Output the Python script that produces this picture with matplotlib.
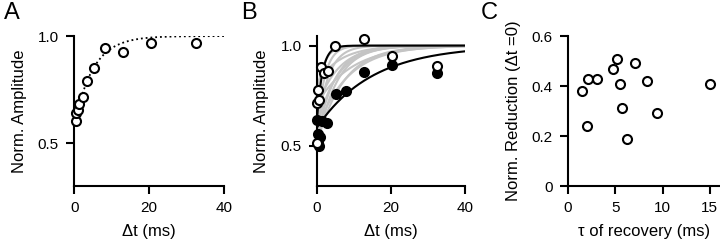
import numpy as np
import matplotlib.pyplot as plt

plt.rcParams['font.family'] = ['Liberation Sans', 'DejaVu Sans']

# panel A: averaged recovery
a_dt = [0.5, 0.6, 0.9, 1.2, 2.3, 3.4, 5.4, 8.3, 13.0, 20.5, 32.5]
a_amp = [0.603, 0.643, 0.657, 0.681, 0.716, 0.79, 0.849, 0.945, 0.927, 0.969, 0.969]
a_fit_r = 0.42
a_fit_tau = 5.0

# panel B: two example cells
b_open_dt = [0.05, 0.1, 0.2, 0.6, 1.0, 2.0, 3.1, 5.0, 12.8, 20.4, 32.5]
b_open_amp = [0.515, 0.716, 0.781, 0.727, 0.891, 0.864, 0.875, 1.0, 1.032, 0.946, 0.90]
b_fill_dt = [0.05, 0.3, 0.45, 0.7, 0.9, 1.35, 2.7, 5.1, 7.9, 12.8, 20.4, 32.5]
b_fill_amp = [0.629, 0.514, 0.56, 0.50, 0.543, 0.622, 0.612, 0.76, 0.776, 0.868, 0.901, 0.863]

# panel C: per-cell fit parameters
c_tau = [1.48, 2.01, 2.12, 3.07, 4.76, 5.22, 5.54, 5.75, 6.25, 7.13, 8.36, 9.39, 15.0]
c_red = [0.38, 0.24, 0.429, 0.429, 0.469, 0.508, 0.409, 0.311, 0.189, 0.491, 0.42, 0.291, 0.409]
fast_idx = 0
slow_idx = 12

fig = plt.figure(figsize=(7.2, 2.42), dpi=100)
axA = fig.add_axes([0.103, 0.231, 0.208, 0.620])
axB = fig.add_axes([0.440, 0.231, 0.206, 0.622])
axC = fig.add_axes([0.789, 0.231, 0.210, 0.620])

mk = dict(marker='o', ms=6.5, mew=1.5, mec='black', ls='none', zorder=4, clip_on=False)

def style(ax):
    for s in ['top', 'right']:
        ax.spines[s].set_visible(False)
    for s in ['left', 'bottom']:
        ax.spines[s].set_linewidth(1.5)
    ax.tick_params(width=1.5, length=6, pad=5, labelsize=11, direction='out')
    ax.xaxis.labelpad = 6
    ax.yaxis.labelpad = 8

t = np.linspace(0, 40, 400)

# A
axA.plot(t, 1 - a_fit_r * np.exp(-t / a_fit_tau), ls=':', color='black', lw=1.3, zorder=2)
axA.plot(a_dt, a_amp, mfc='white', **mk)
axA.set_xlim(0, 40)
axA.set_ylim(0.3, 1.0)
axA.set_xticks([0, 20, 40])
axA.set_yticks([0.5, 1.0])
axA.set_yticklabels(['0.5', '1.0'])
axA.set_xlabel('Δt (ms)', fontsize=12)
axA.set_ylabel('Norm. Amplitude', fontsize=12)
style(axA)

# B
for i, (tau, r) in enumerate(zip(c_tau, c_red)):
    if i in (fast_idx, slow_idx):
        continue
    axB.plot(t, 1 - r * np.exp(-t / tau), color='#c4c4c4', lw=1.5, zorder=1)
axB.plot(t, 1 - c_red[fast_idx] * np.exp(-t / c_tau[fast_idx]), color='black', lw=1.5, zorder=2)
axB.plot(t, 1 - c_red[slow_idx] * np.exp(-t / c_tau[slow_idx]), color='black', lw=1.5, zorder=2)
axB.plot(b_fill_dt, b_fill_amp, mfc='black', **mk)
axB.plot(b_open_dt, b_open_amp, mfc='white', **mk)
axB.set_xlim(0, 40)
axB.set_ylim(0.3, 1.05)
axB.set_xticks([0, 20, 40])
axB.set_yticks([0.5, 1.0])
axB.set_yticklabels(['0.5', '1.0'])
axB.set_xlabel('Δt (ms)', fontsize=12)
axB.set_ylabel('Norm. Amplitude', fontsize=12)
style(axB)

# C
axC.plot(c_tau, c_red, mfc='white', **mk)
axC.set_xlim(0, 16)
axC.set_ylim(0, 0.6)
axC.set_xticks([0, 5, 10, 15])
axC.set_yticks([0, 0.2, 0.4, 0.6])
axC.set_yticklabels(['0', '0.2', '0.4', '0.6'])
axC.set_xlabel('τ of recovery (ms)', fontsize=12)
axC.set_ylabel('Norm. Reduction (Δt =0)', fontsize=12)
style(axC)

for x, lab in [(0.005, 'A'), (0.335, 'B'), (0.668, 'C')]:
    fig.text(x, 0.99, lab, fontsize=17, va='top', ha='left')

fig.savefig('out.png', dpi=100)
